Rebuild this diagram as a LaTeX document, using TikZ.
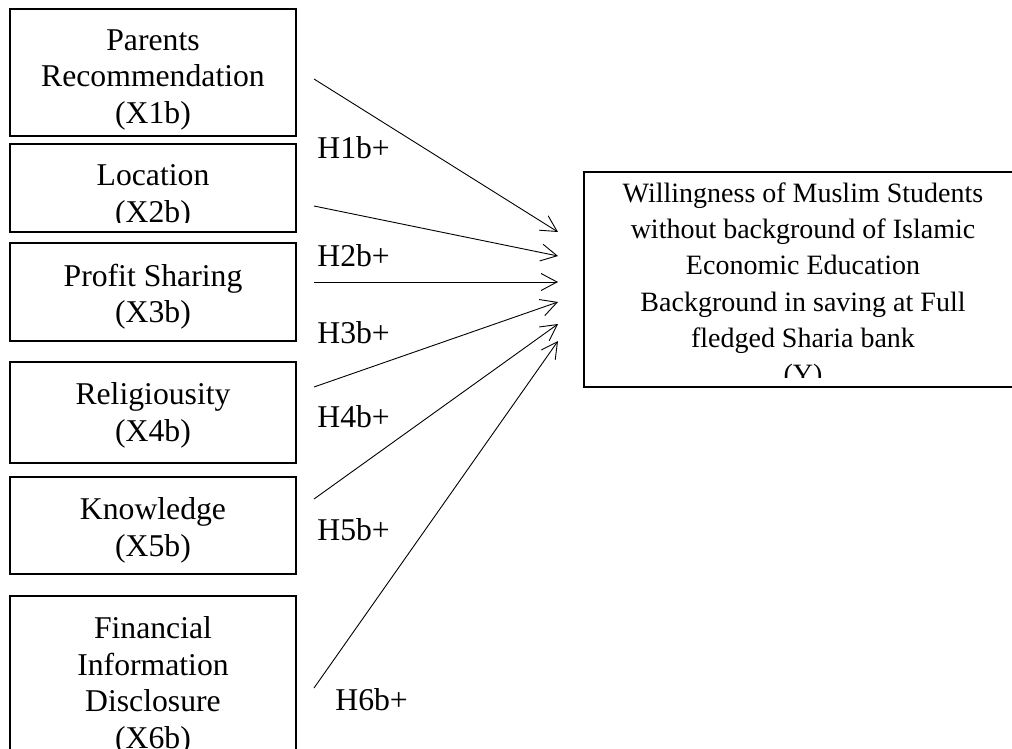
\documentclass[tikz,border=0pt]{standalone}
\usepackage{fontspec}
\setmainfont{Liberation Serif}
\usetikzlibrary{positioning, arrows.meta}

\tikzset{
  varbox/.style={draw, line width=0.6pt, minimum width=143pt, inner sep=0pt},
  vartext/.style={align=center, inner sep=0pt, font=\fontsize{15.85}{18.2}\selectfont},
  ytext/.style={align=center, inner sep=0pt, font=\fontsize{14}{18.1}\selectfont},
  hyp/.style={anchor=base west, inner sep=0pt, font=\fontsize{15.85}{18.2}\selectfont},
  link/.style={-{Straight Barb[length=8pt,width=8.5pt]}, line width=0.45pt}
}

\begin{document}
\begin{tikzpicture}[x=0.5pt, y=-0.5pt]
  \useasboundingbox (0,0) rectangle (1012,749);
  \clip (0,0) rectangle (1012,749);
  % independent variables
  \node[varbox, minimum height=63.5pt] (x1) at (153,72.5) {};
  \node[varbox, minimum height=44pt]   (x2) at (153,188) {};
  \node[varbox, minimum height=49pt]   (x3) at (153,292) {};
  \node[varbox, minimum height=50.5pt] (x4) at (153,412.5) {};
  \node[varbox, minimum height=48.5pt] (x5) at (153,525.5) {};
  \node[varbox, minimum height=87pt]   (x6) at (153,683) {};
  \node[vartext, below=10.5pt of x1.north] (t1) {Parents\\Recommendation\\(X1b)};
  \begin{scope}
    \clip (x2.north west) rectangle ([yshift=5pt]x2.south east);
    \node[vartext, below=10.5pt of x2.north] (t2) {Location\\(X2b)};
  \end{scope}
  \node[vartext, below=10.5pt of x3.north] (t3) {Profit Sharing\\(X3b)};
  \node[vartext, below=10.5pt of x4.north] (t4) {Religiousity\\(X4b)};
  \node[vartext, below=10.5pt of x5.north] (t5) {Knowledge\\(X5b)};
  \node[vartext, below=10.5pt of x6.north] (t6) {Financial\\Information\\Disclosure\\(X6b)};
  % dependent variable
  \node[varbox, minimum width=219pt, minimum height=107.5pt] (y) at (803,279.5) {};
  \begin{scope}
    \clip (y.north west) rectangle ([yshift=5pt]y.south east);
    \node[ytext, below=5.5pt of y.north] (ty) {Willingness of Muslim Students\\without background of Islamic\\Economic Education\\Background in saving at Full\\fledged Sharia bank\\(Y)};
  \end{scope}
  % hypotheses
  \coordinate (s1) at (314,79);  \coordinate (e1) at (558,232);
  \coordinate (s2) at (314,206); \coordinate (e2) at (558,256);
  \coordinate (s3) at (314,282); \coordinate (e3) at (558,282);
  \coordinate (s4) at (314,387); \coordinate (e4) at (558,302);
  \coordinate (s5) at (314,499); \coordinate (e5) at (558,324);
  \coordinate (s6) at (314,688); \coordinate (e6) at (558,341);
  \foreach \i in {1,...,6}
    \draw[link] (s\i) -- (e\i);
  \node[hyp] (h1) at (317,158) {H1b+};
  \node[hyp] (h2) at (317,266) {H2b+};
  \node[hyp] (h3) at (317,343) {H3b+};
  \node[hyp] (h4) at (317,427) {H4b+};
  \node[hyp] (h5) at (317,540) {H5b+};
  \node[hyp] (h6) at (335,710) {H6b+};
\end{tikzpicture}
\end{document}
